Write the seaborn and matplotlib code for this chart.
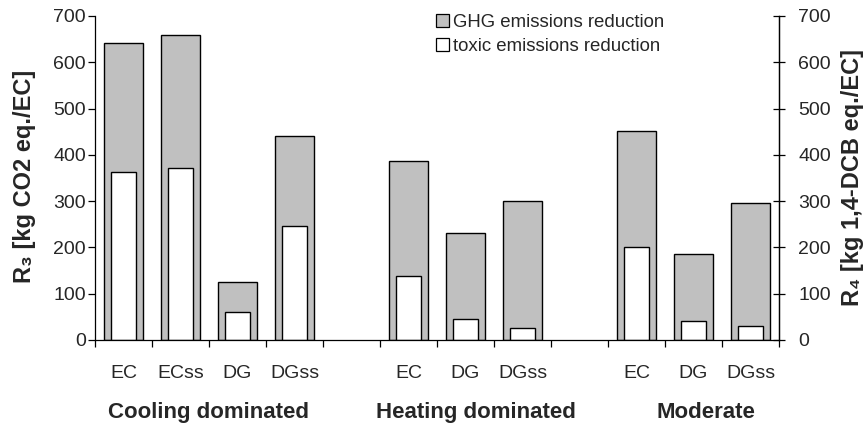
import numpy as np
import pandas as pd
import matplotlib
matplotlib.use("Agg")
import matplotlib.pyplot as plt
import seaborn as sns
from matplotlib.patches import Patch

# ---------------- data ----------------
groups = ["Cooling dominated", "Heating dominated", "Moderate"]
group_cases = [["EC", "ECss", "DG", "DGss"], ["EC", "DG", "DGss"], ["EC", "DG", "DGss"]]
ghg_reduction = [641, 659, 125, 441, 387, 232, 300, 452, 185, 297]
toxic_reduction = [362, 371, 60, 247, 138, 45, 27, 202, 42, 30]
y_ticks = [0, 100, 200, 300, 400, 500, 600, 700]
left_label = "R₃ [kg CO2 eq./EC]"
right_label = "R₄ [kg 1,4-DCB eq./EC]"
legend_labels = ["GHG emissions reduction", "toxic emissions reduction"]

# ---------------- build table ----------------
keys, case_names, group_names = [], [], []
order, order_labels = [], []
for gi, (g, cs) in enumerate(zip(groups, group_cases)):
    for c in cs:
        k = f"{g}|{c}"
        keys.append(k); case_names.append(c); group_names.append(g)
        order.append(k); order_labels.append(c)
    if gi < len(groups) - 1:
        order.append(f"gap{gi}"); order_labels.append("")
df = pd.DataFrame({"key": keys, "case": case_names, "group": group_names,
                   "ghg": ghg_reduction, "toxic": toxic_reduction})

# ---------------- style ----------------
sns.set_style("white")
plt.rcParams["font.family"] = ["Liberation Sans", "DejaVu Sans"]

fig = plt.figure(figsize=(8.66, 4.25), dpi=100)
ax = fig.add_axes([95 / 866, 0.2, 684 / 866, 324 / 425])

GRAY = "#c0c0c0"
sns.barplot(data=df, x="key", y="ghg", order=order, color=GRAY, saturation=1,
            edgecolor="black", linewidth=1.0, width=0.68, errorbar=None, ax=ax)
sns.barplot(data=df, x="key", y="toxic", order=order, color="white", saturation=1,
            edgecolor="black", linewidth=1.0, width=0.44, errorbar=None, ax=ax)

n = len(order)
ax.set_xlim(-0.5, n - 0.5)
ax.set_ylim(0, 700)
ax.set_xlabel("")
ax.set_ylabel("")

# x ticks: boundaries as major ticks, labels on minor ticks
ax.set_xticks(np.arange(-0.5, n, 1.0))
ax.set_xticklabels([""] * (n + 1))
ax.set_xticks(np.arange(0, n), minor=True)
ax.set_xticklabels(order_labels, minor=True)
ax.tick_params(axis="x", which="major", direction="out", length=5, width=0.9,
               color="black", bottom=True)
ax.tick_params(axis="x", which="minor", length=0, pad=18, labelsize=14, bottom=True)

ax.set_yticks(y_ticks)
ax.tick_params(axis="y", direction="out", length=5, width=0.9, color="black",
               pad=1.5, labelsize=14, left=True)

ax.spines["top"].set_visible(False)
for s in ["left", "bottom", "right"]:
    ax.spines[s].set_visible(True)
    ax.spines[s].set_color("black")
    ax.spines[s].set_linewidth(0.9)
ax.grid(False)

ax2 = ax.twinx()
ax2.set_ylim(0, 700)
ax2.set_yticks(y_ticks)
ax2.tick_params(axis="y", direction="inout", length=9, width=0.9, color="black",
                pad=9.4, labelsize=14, right=True)
for s in ["top", "left", "bottom"]:
    ax2.spines[s].set_visible(False)
ax2.spines["right"].set_color("black")
ax2.spines["right"].set_linewidth(0.9)
ax2.grid(False)

# group labels
group_x = [1.5, 6.18, 10.22]
for g, gx in zip(groups, group_x):
    ax.text(gx, -0.2407, g, transform=ax.get_xaxis_transform(), ha="center",
            va="baseline", fontsize=16, fontweight="bold")

# axis titles
fig.text(25 / 866, 1 - 176 / 425, left_label, rotation=90, ha="center", va="center",
         fontsize=17, fontweight="bold")
fig.text(852 / 866, 1 - 178 / 425, right_label, rotation=90, ha="center", va="center",
         fontsize=17, fontweight="bold")

# legend
handles = [Patch(facecolor=GRAY, edgecolor="black", linewidth=0.9),
           Patch(facecolor="white", edgecolor="black", linewidth=0.9)]
fig.legend(handles, legend_labels, loc="upper left",
           bbox_to_anchor=(436 / 866, 1 - 14 / 425), frameon=False, fontsize=13.4,
           handlelength=0.7, handleheight=0.7, handletextpad=0.2, labelspacing=0.38,
           borderpad=0, borderaxespad=0)

fig.savefig("out.png", dpi=100)
